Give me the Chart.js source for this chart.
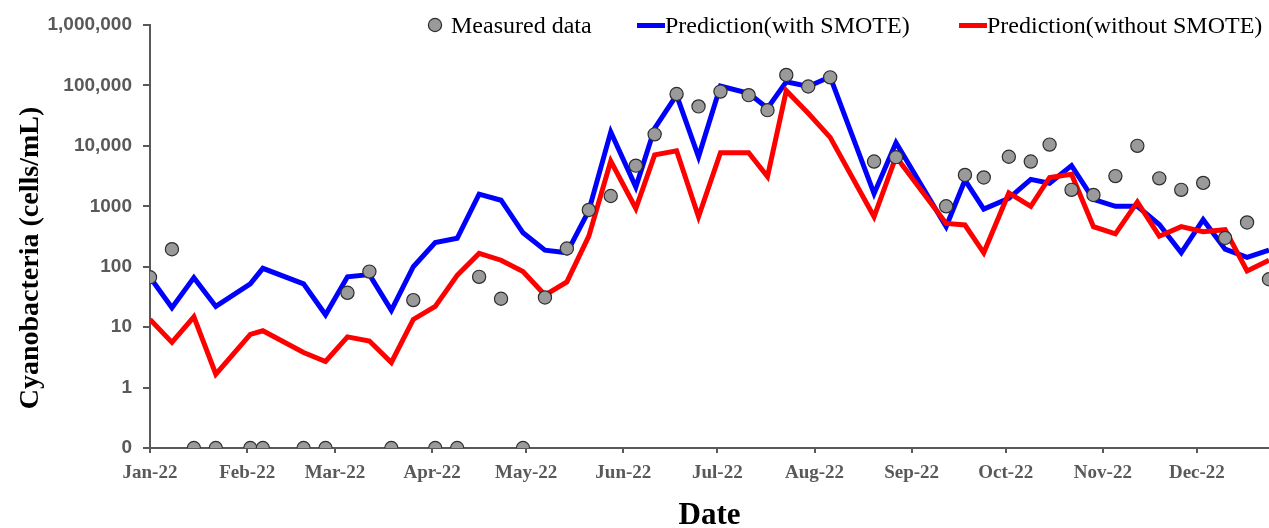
<!DOCTYPE html>
<html>
<head>
<meta charset="utf-8">
<script src="https://cdn.jsdelivr.net/npm/chart.js@4.4.1/dist/chart.umd.min.js"></script>
<style>
  html, body { margin: 0; padding: 0; background: #ffffff; }
  #wrap { width: 1269px; height: 528px; position: relative; }
</style>
</head>
<body>
<div id="wrap"><canvas id="c" width="1269" height="528"></canvas></div>
<script>
// ---- Data (day of year 2022, 0 = Jan 1) ----
const days = [0, 7, 14, 21, 32, 36, 49, 56, 63, 70, 77, 84, 91, 98, 105, 112, 119, 126, 133, 140,
  147, 155, 161, 168, 175, 182, 191, 197, 203, 210, 217, 231, 238, 254, 260, 266, 274, 281, 287, 294,
  301, 308, 315, 322, 329, 336, 343, 350, 357];

const measured = [67, 195, 0, 0, 0, 0, 0, 0, 37, 83, 0, 28, 0, 0, 68, 29.5, 0, 31, 200, 870,
  1480, 4700, 15500, 72000, 45000, 79000, 69000, 39000, 149000, 96000, 136000, 5500, 6500, 1000, 3300, 3000, 6600, 5500, 10500, 1870,
  1540, 3160, 10000, 2900, 1870, 2440, 300, 540, 62];

const withSmote = [67, 21, 66, 22, 52, 94, 52, 16, 68, 74, 19, 100, 250, 295, 1590, 1260, 364, 188, 170, 850,
  17000, 2080, 19500, 69000, 6600, 98000, 74000, 42000, 115000, 96000, 139000, 1620, 11300, 460, 2700, 900, 1350, 2790, 2400, 4700,
  1300, 1000, 1000, 500, 170, 600, 195, 143, 188];

const withoutSmote = [13.4, 5.6, 14.8, 1.67, 7.6, 8.7, 3.8, 2.7, 6.9, 5.9, 2.6, 13.4, 22, 72, 166, 128, 83, 34, 56, 320,
  5600, 920, 7100, 8300, 670, 7700, 7700, 3100, 82000, 34600, 13800, 670, 6600, 520, 490, 170, 1660, 1000, 3000, 3400,
  460, 350, 1180, 320, 460, 380, 410, 85, 128];

const monthDays = [0, 31, 59, 90, 120, 151, 181, 212, 243, 273, 304, 334];
const monthLabels = ['Jan-22', 'Feb-22', 'Mar-22', 'Apr-22', 'May-22', 'Jun-22', 'Jul-22', 'Aug-22', 'Sep-22', 'Oct-22', 'Nov-22', 'Dec-22'];

const yTickValues = [0.1, 1, 10, 100, 1000, 10000, 100000, 1000000];
const yTickLabels = ['0', '1', '10', '100', '1000', '10,000', '100,000', '1,000,000'];

const seriesNames = ['Measured data', 'Prediction(with SMOTE)', 'Prediction(without SMOTE)'];

// ---- Build chart ----
const ZERO_POS = 0.1; // "0" sits at the bottom decade of the log axis
const toPts = (arr, mapZero) => arr.map((v, i) => ({ x: days[i], y: (mapZero && v === 0) ? ZERO_POS : v }));

const AXIS_GRAY = '#595959';

const legendPlugin = {
  id: 'customLegend',
  afterDraw(chart) {
    const ctx = chart.ctx;
    ctx.save();
    ctx.font = '24px "Liberation Serif", "Times New Roman", serif';
    ctx.fillStyle = '#000';
    ctx.textBaseline = 'alphabetic';
    ctx.textAlign = 'left';
    const m = chart.data.datasets[0];
    ctx.beginPath();
    ctx.arc(435, 25, 6.6, 0, Math.PI * 2);
    ctx.fillStyle = m.pointBackgroundColor;
    ctx.fill();
    ctx.lineWidth = m.pointBorderWidth;
    ctx.strokeStyle = m.pointBorderColor;
    ctx.stroke();
    ctx.fillStyle = '#000';
    ctx.fillText(m.label, 451, 33);
    const items = [[chart.data.datasets[2], 637, 665], [chart.data.datasets[1], 959, 987]];
    for (const [ds, x0, x1] of items) {
      ctx.beginPath();
      ctx.moveTo(x0, 25.5);
      ctx.lineTo(x1, 25.5);
      ctx.lineWidth = ds.borderWidth;
      ctx.strokeStyle = ds.borderColor;
      ctx.stroke();
      ctx.fillText(ds.label, x1, 33);
    }
    ctx.restore();
  }
};

const yTitlePlugin = {
  id: 'yTitle',
  afterDraw(chart) {
    const ctx = chart.ctx;
    ctx.save();
    ctx.translate(31, 258);
    ctx.rotate(-Math.PI / 2);
    ctx.font = 'bold 28px "Liberation Serif", "Times New Roman", serif';
    ctx.fillStyle = '#000';
    ctx.textAlign = 'center';
    ctx.textBaseline = 'middle';
    ctx.fillText('Cyanobacteria (cells/mL)', 0, 0);
    ctx.restore();
  }
};

new Chart(document.getElementById('c'), {
  type: 'line',
  data: {
    datasets: [
      {
        label: seriesNames[0],
        data: toPts(measured, true),
        showLine: false,
        pointRadius: 6.6,
        pointHoverRadius: 6.6,
        pointBackgroundColor: '#9a9a9a',
        pointBorderColor: '#2e2e2e',
        pointBorderWidth: 1.2,
        order: 0
      },
      {
        label: seriesNames[2],
        data: toPts(withoutSmote, false),
        borderColor: '#ff0000',
        backgroundColor: '#ff0000',
        borderWidth: 5,
        pointRadius: 0,
        tension: 0,
        order: 1
      },
      {
        label: seriesNames[1],
        data: toPts(withSmote, false),
        borderColor: '#0000ff',
        backgroundColor: '#0000ff',
        borderWidth: 5,
        pointRadius: 0,
        tension: 0,
        order: 2
      }
    ]
  },
  options: {
    responsive: false,
    animation: false,
    devicePixelRatio: 1,
    layout: { autoPadding: false, padding: { top: 25, right: 0, left: 0, bottom: 0 } },
    plugins: {
      legend: { display: false },
      tooltip: { enabled: false }
    },
    scales: {
      x: {
        type: 'linear',
        min: 0,
        max: 357,
        afterBuildTicks: (s) => { s.ticks = monthDays.map(v => ({ value: v })); },
        afterFit: (s) => { s.height = 80; },
        ticks: {
          autoSkip: false,
          maxRotation: 0,
          padding: 9,
          color: AXIS_GRAY,
          font: { family: '"Liberation Serif", "Times New Roman", serif', size: 19, weight: 'bold' },
          callback: (v, i) => monthLabels[i]
        },
        grid: { drawOnChartArea: false, drawTicks: true, tickLength: 5, color: AXIS_GRAY, lineWidth: 2 },
        border: { display: true, color: AXIS_GRAY, width: 2 },
        title: {
          display: true,
          text: 'Date',
          color: '#000',
          padding: 0,
          font: { family: '"Liberation Serif", "Times New Roman", serif', size: 31, weight: 'bold', lineHeight: 0.78 }
        }
      },
      y: {
        type: 'logarithmic',
        min: 0.1,
        max: 1000000,
        afterBuildTicks: (s) => { s.ticks = yTickValues.map(v => ({ value: v })); },
        afterFit: (s) => { s.width = 150; },
        ticks: {
          padding: 11,
          color: AXIS_GRAY,
          font: { family: '"Liberation Sans", Arial, sans-serif', size: 19, weight: 'bold' },
          callback: (v, i) => yTickLabels[i]
        },
        grid: { drawOnChartArea: false, drawTicks: true, tickLength: 7, color: AXIS_GRAY, lineWidth: 2 },
        border: { display: true, color: AXIS_GRAY, width: 2 }
      }
    }
  },
  plugins: [legendPlugin, yTitlePlugin]
});
</script>
</body>
</html>
